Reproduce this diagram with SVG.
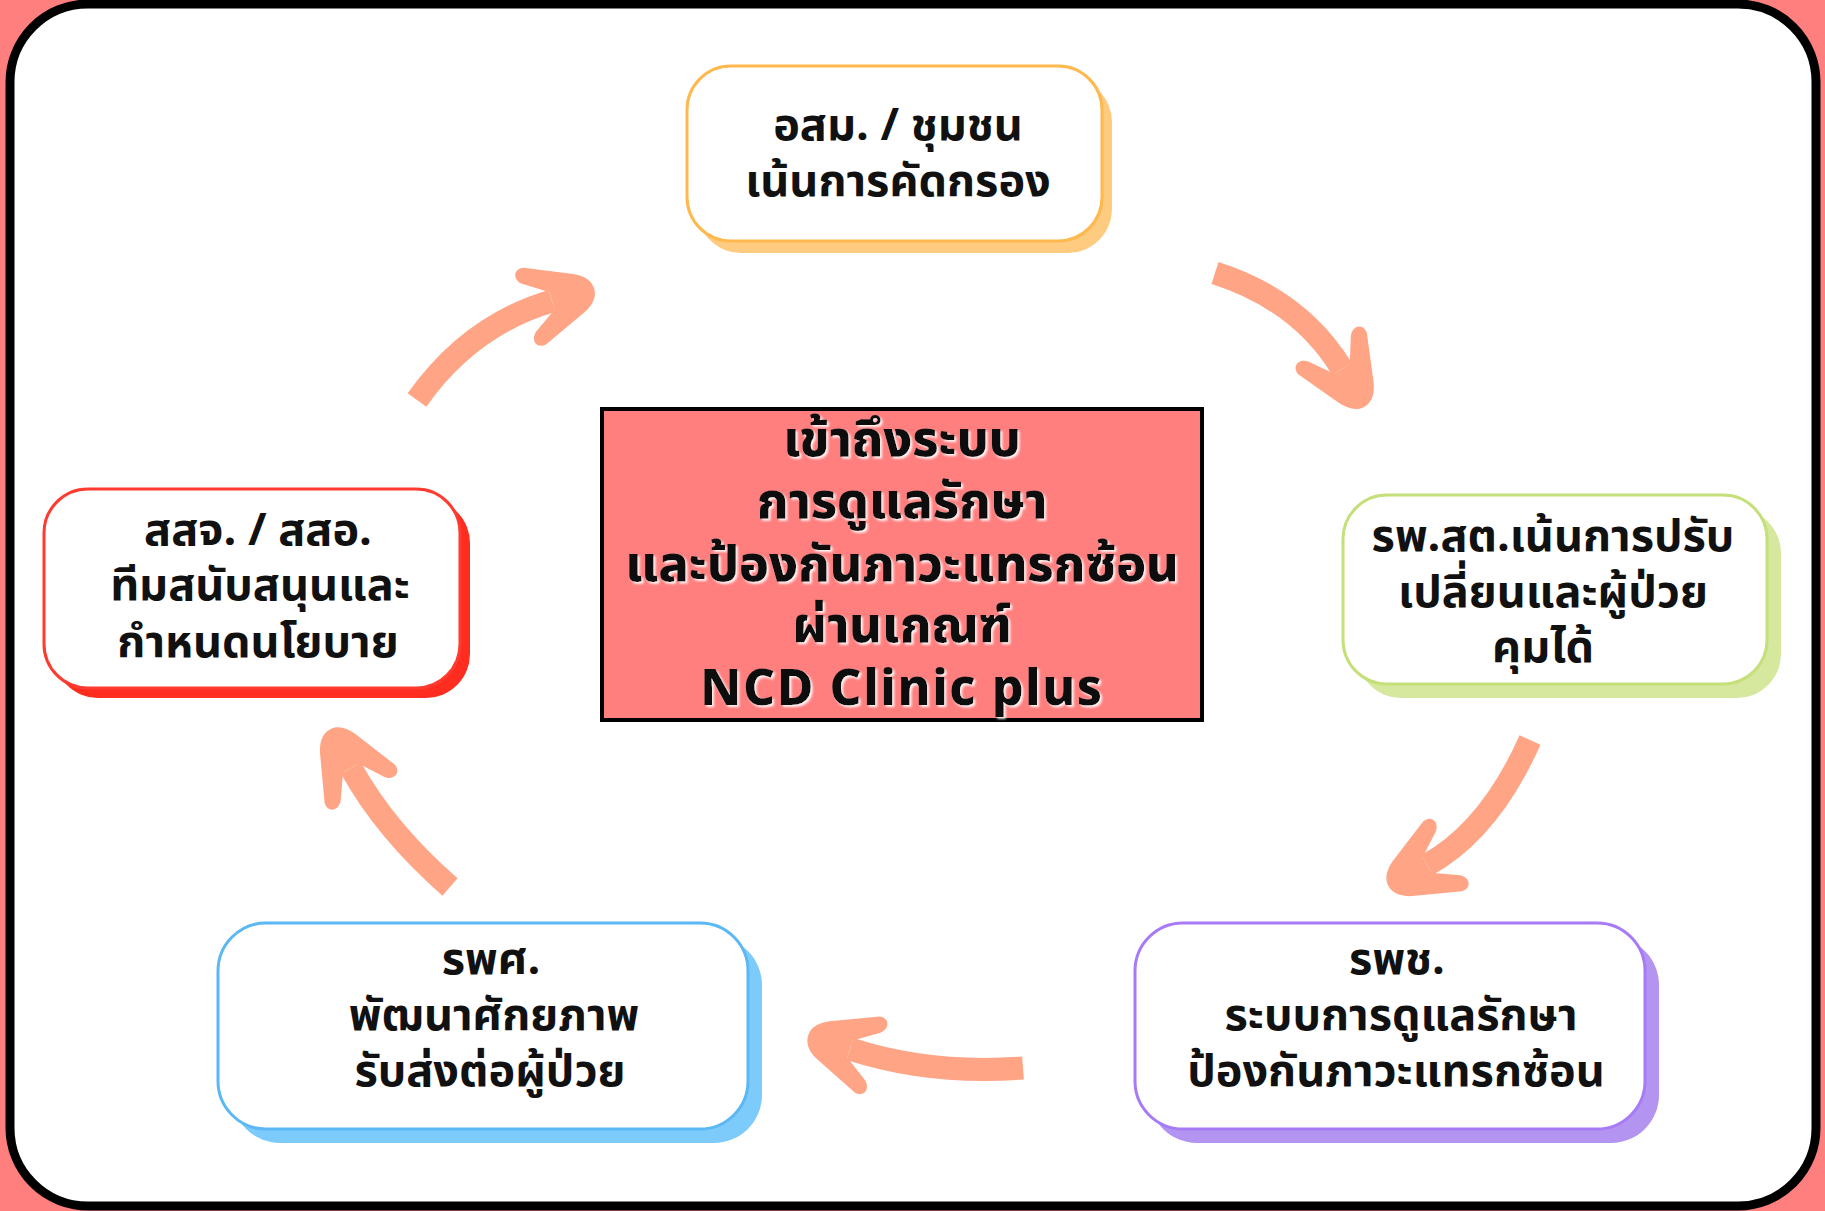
<svg xmlns="http://www.w3.org/2000/svg" width="1825" height="1211" viewBox="0 0 1825 1211">
<defs>
<style>
.node-text{font-family:"Noto Sans Thai","Noto Sans","DejaVu Sans",sans-serif;font-weight:700;font-size:45px;fill:#111;text-anchor:middle}
.center-text{font-family:"Noto Sans Thai","Noto Sans","DejaVu Sans",sans-serif;font-weight:800;font-size:50px;fill:#111;text-anchor:middle}
.latin{letter-spacing:1.5px}
.box{fill:#fff;stroke-width:3}
.arrow{fill:none;stroke:#FFA586;stroke-width:23;stroke-linecap:butt}
</style>
<marker id="head" markerUnits="userSpaceOnUse" orient="auto" refX="-38" refY="0" markerWidth="10" markerHeight="10" overflow="visible">
<path d="M6,0 C6,-10 -2,-16 -10,-20 L-56,-40 C-66,-42 -70,-32 -62,-25 L-38,-9 L-38,9 L-62,25 C-70,32 -66,42 -56,40 L-10,20 C-2,16 6,10 6,0 Z" fill="#FFA586"/>
</marker>
<filter id="glow" x="-10%" y="-10%" width="120%" height="130%">
<feDropShadow dx="2" dy="2" stdDeviation="0.8" flood-color="#ffffff" flood-opacity="0.9"/>
</filter>
</defs>
<rect x="0" y="0" width="1825" height="1211" fill="#FF7F7F"/>
<rect x="10" y="4" width="1806" height="1202" rx="78" fill="#fff" stroke="#000" stroke-width="9"/>

<g id="connectors">
<path class="arrow" d="M417,400 Q470,325 552,301" marker-end="url(#head)"/>
<path class="arrow" d="M1215,273 Q1300,300 1342,369" marker-end="url(#head)"/>
<path class="arrow" d="M1530,740 Q1490,830 1427,865" marker-end="url(#head)"/>
<path class="arrow" d="M1023,1068 Q930,1075 850,1049" marker-end="url(#head)"/>
<path class="arrow" d="M450,887 Q385,830 351,768" marker-end="url(#head)"/>
</g>

<g id="node-top">
<rect x="697" y="78" width="415" height="175" rx="44" fill="#FFCB80"/>
<rect class="box" x="687" y="66" width="415" height="175" rx="44" stroke="#FFB84D"/>
<text class="node-text" x="898" y="140">อสม. / ชุมชน</text>
<text class="node-text" x="898" y="196">เน้นการคัดกรอง</text>
</g>

<g id="node-center">
<rect x="602" y="409" width="600" height="311" fill="#FF7F7F" stroke="#000" stroke-width="4"/>
<g filter="url(#glow)">
<text class="center-text" x="902" y="456">เข้าถึงระบบ</text>
<text class="center-text" x="902" y="518">การดูแลรักษา</text>
<text class="center-text" x="902" y="581">และป้องกันภาวะแทรกซ้อน</text>
<text class="center-text" x="902" y="642">ผ่านเกณฑ์</text>
<text class="center-text latin" x="902" y="705">NCD Clinic plus</text>
</g>
</g>

<g id="node-left">
<rect x="54" y="499" width="416" height="199" rx="44" fill="#FF2D1F"/>
<rect class="box" x="44" y="489" width="416" height="199" rx="44" stroke="#FF3B30"/>
<text class="node-text" x="258" y="545">สสจ. / สสอ.</text>
<text class="node-text" x="260" y="600">ทีมสนับสนุนและ</text>
<text class="node-text" x="258" y="657">กำหนดนโยบาย</text>
</g>

<g id="node-right">
<rect x="1357" y="509" width="424" height="189" rx="44" fill="#D5E89E"/>
<rect class="box" x="1343" y="495" width="424" height="189" rx="44" stroke="#C5E07A"/>
<text class="node-text" x="1553" y="551">รพ.สต.เน้นการปรับ</text>
<text class="node-text" x="1553" y="607">เปลี่ยนและผู้ป่วย</text>
<text class="node-text" x="1543" y="662">คุมได้</text>
</g>

<g id="node-bottom-left">
<rect x="232" y="937" width="530" height="206" rx="48" fill="#7DCBFB"/>
<rect class="box" x="218" y="923" width="530" height="206" rx="48" stroke="#5BB8F5"/>
<text class="node-text" x="491" y="974">รพศ.</text>
<text class="node-text" x="494" y="1030">พัฒนาศักยภาพ</text>
<text class="node-text" x="490" y="1086">รับส่งต่อผู้ป่วย</text>
</g>

<g id="node-bottom-right">
<rect x="1149" y="937" width="510" height="206" rx="48" fill="#B394F0"/>
<rect class="box" x="1135" y="923" width="510" height="206" rx="48" stroke="#A77BF5"/>
<text class="node-text" x="1397" y="974">รพช.</text>
<text class="node-text" x="1401" y="1030">ระบบการดูแลรักษา</text>
<text class="node-text" x="1396" y="1086">ป้องกันภาวะแทรกซ้อน</text>
</g>
</svg>
